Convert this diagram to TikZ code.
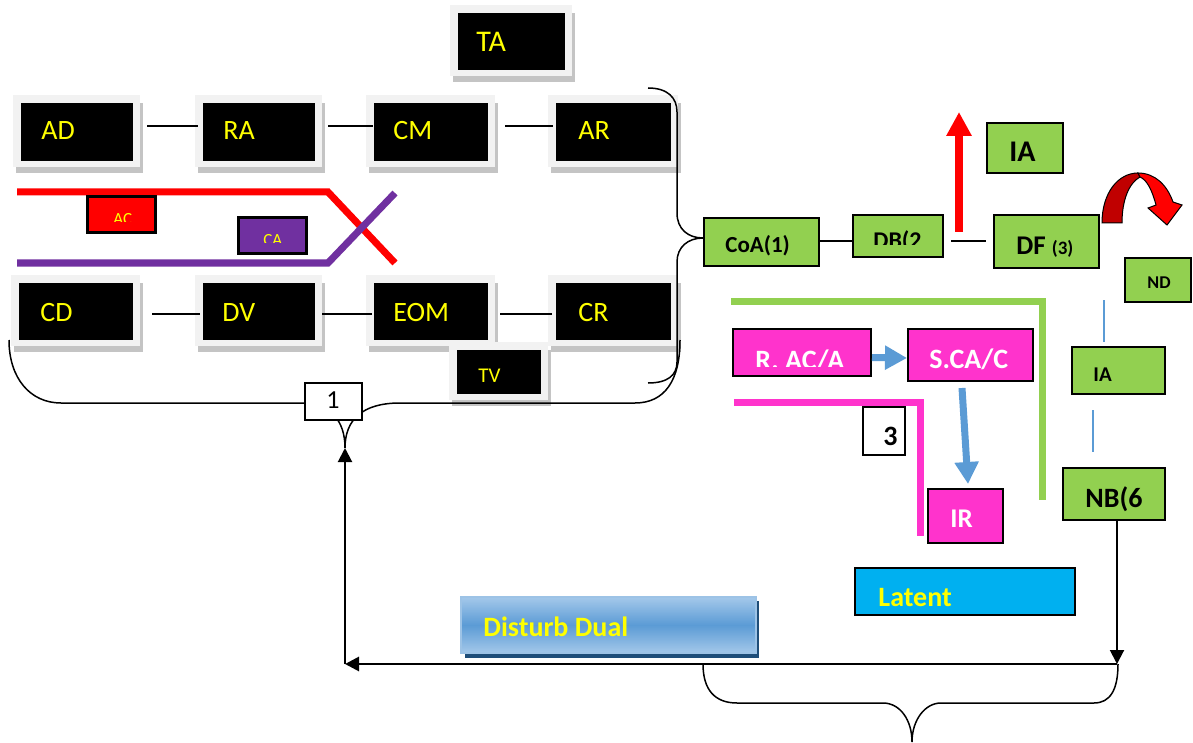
\documentclass[tikz,border=0pt]{standalone}
\usepackage{fontspec}
\setmainfont{Carlito}
\usetikzlibrary{fit,calc,arrows.meta}
\definecolor{ygreen}{HTML}{92D050}
\definecolor{hpink}{HTML}{FF33CC}
\definecolor{scyan}{HTML}{00B0F0}
\definecolor{sblue}{HTML}{5B9BD5}
\definecolor{lblue}{HTML}{A4C8EA}
\definecolor{dblue}{HTML}{1F4E79}
\definecolor{dpurple}{HTML}{7030A0}
\definecolor{dred}{HTML}{C00000}
\definecolor{tyellow}{HTML}{FFFF00}
\definecolor{frgray}{HTML}{F2F2F2}
\definecolor{shgray}{HTML}{C4C4C4}
\newcommand\myfs[1]{\fontsize{#1}{#1}\selectfont}
\newcommand\blkbox[5]{%
  \fill[shgray] ({#2-5},{#3}) rectangle ({#4+11},{#5+13});
  \fill[frgray] ({#2-8},{#3-8}) rectangle ({#4+8},{#5+7});
  \node[blackbox, fit={(#2,#3)(#4,#5)}] (#1) {};}
\begin{document}
\begin{tikzpicture}[x=0.5pt,y=-0.5pt,
  blackbox/.style={fill=black, draw=black, line width=0.3pt, inner sep=0pt},
  ytxt/.style={text=tyellow, inner sep=0pt, anchor=base west, font=\myfs{14}},
  btxt/.style={text=black, inner sep=0pt, anchor=base west, font=\bfseries\myfs{#1}},
  wtxt/.style={text=white, inner sep=0pt, anchor=base west, font=\bfseries\myfs{#1}},
  grbox/.style={fill=ygreen, draw=black, line width=1pt, inner sep=0pt},
  pkbox/.style={fill=hpink, draw=black, line width=1pt, inner sep=0pt},
  smallbox/.style={draw=black, line width=1.5pt, inner sep=0pt},
  numbox/.style={fill=white, draw=black, line width=0.6pt, inner sep=0pt},
  conn/.style={draw=black, line width=0.75pt},
  brace/.style={draw=black, line width=0.75pt},
  thickline/.style={line width=3.5pt},
  barrow/.style={draw=sblue, line width=3.5pt, -{Triangle[width=11.5pt,length=11pt]}},
  karrow/.style={draw=black, -{Triangle[width=7pt,length=7pt]}}
]
\useasboundingbox (0,0) rectangle (1193,743);

% ---------- black boxes ----------
\blkbox{TA}{458}{13}{564}{69}
\blkbox{AD}{21}{103}{132}{160}
\blkbox{RA}{203}{103}{314}{160}
\blkbox{CM}{374}{103}{487}{160}
\blkbox{AR}{556}{103}{670}{160}
\blkbox{CD}{19}{283}{132}{339}
\blkbox{DV}{203}{283}{314}{339}
\blkbox{EOM}{374}{283}{487}{339}
\blkbox{CR}{556}{283}{670}{339}
\blkbox{TV}{457}{350}{540}{393}

\node[ytxt, font=\myfs{15}] (TAt) at (476,52) {TA};
\node[ytxt] (ADt) at (41,140) {AD};
\node[ytxt] (RAt) at (223,140) {RA};
\node[ytxt] (CMt) at (393,140) {CM};
\node[ytxt] (ARt) at (578,140) {AR};
\node[ytxt] (CDt) at (40,321) {CD};
\node[ytxt] (DVt) at (222,321) {DV};
\node[ytxt] (EOMt) at (393,321) {EOM};
\node[ytxt] (CRt) at (578,321) {CR};
\node[ytxt, font=\myfs{10.5}] (TVt) at (478,382) {TV};

% connectors of the rows
\draw[conn] ($(AD.east)+(15,-5.5)$) -- ($(RA.west)+(-5,-5.5)$);
\draw[conn] ($(RA.east)+(14,-5.5)$) -- ($(CM.west)+(-1,-5.5)$);
\draw[conn] ($(CM.east)+(18,-5.5)$) -- ($(AR.west)+(-3,-5.5)$);
\draw[conn] ($(CD.east)+(20,3)$) -- ($(DV.west)+(-3,3)$);
\draw[conn] ($(DV.east)+(8,3)$) -- ($(EOM.west)+(-2,3)$);
\draw[conn] ($(EOM.east)+(13,3)$) -- ($(CR.west)+(-4,3)$);

% ---------- crossing lines ----------
\draw[red, thickline] (17,192) -- (328,192) -- (395,263);
\draw[dpurple, thickline] (17,263) -- (328,263) -- (395,193);

\node[smallbox, fill=red, fit={(87,197)(155,233)}] (AC) {};
\begin{scope}
  \clip (87,197) rectangle (155,222);
  \node[ytxt, font=\myfs{8.5}] (ACt) at (113,225) {AC};
\end{scope}
\node[smallbox, fill=dpurple, fit={(238,218)(306,254)}] (CA) {};
\begin{scope}
  \clip (238,218) rectangle (306,243);
  \node[ytxt, font=\myfs{8.5}] (CAt) at (263,246) {CA};
\end{scope}

% ---------- green chain ----------
\node[grbox, fit={(704,218)(819,266)}] (CoA) {};
\node[btxt=11.5] (CoAt) at (725,253) {CoA(1)};
\node[grbox, fit={(853,215)(943,257)}] (DB) {};
\begin{scope}
  \clip (853,215) rectangle (943,245);
  \node[btxt=12] (DBt) at (873,248.5) {DB(2};
\end{scope}
\node[grbox, fit={(994,215)(1099,268)}] (DF) {};
\node[btxt=13.5] (DFt) at (1016,255) {DF {\myfs{9.5}(3)}};
\node[grbox, fit={(987,123)(1063,173)}] (IA1) {};
\node[btxt=15] (IA1t) at (1009,162) {IA};
\node[grbox, fit={(1125,258)(1191,302)}] (ND) {};
\node[btxt=9] (NDt) at (1147,288) {ND};
\node[grbox, fit={(1072,347)(1165,394)}] (IA2) {};
\node[btxt=10.5] (IA2t) at (1093,381) {IA};
\node[grbox, fit={(1063,468)(1165,520)}] (NB6) {};
\node[btxt=14] (NB6t) at (1085,507) {NB(6};

\coordinate (cy) at (0,241);
\draw[conn] (CoA.east |- cy) -- (DB.west |- cy);
\draw[conn] ($(DB.east |- cy)+(7,0)$) -- ($(DF.west |- cy)+(-7,0)$);

% red up arrow
\coordinate (rb) at (959,232);
\coordinate (rt) at (959,112);
\draw[red, line width=4pt, -{Triangle[width=12pt,length=12pt]}] (rb) -- (rt);

% curved red arrow
\filldraw[fill=dred, draw=black, line width=0.5pt]
  (1102,223) .. controls (1102,193) and (1118,173) .. (1138,173)
  -- (1140,177) .. controls (1129,183) and (1122,200) .. (1122,223) -- cycle;
\filldraw[fill=red, draw=black, line width=0.5pt]
  (1138,173) .. controls (1155,173) and (1167,185) .. (1173,202)
  -- (1182,205) -- (1167,225) -- (1148,208) -- (1156,205)
  .. controls (1152,190) and (1147,180) .. (1140,177) -- cycle;

% thin blue lines
\draw[sblue, line width=0.6pt] (1104,300) -- (1104,342);
\draw[sblue, line width=0.6pt] (1093,410) -- (1093,452);

% ---------- pink part ----------
\draw[ygreen, thickline] (731,301) -- (1042,301) -- (1042,500);
\draw[hpink, thickline] (734,402) -- (920,402) -- (920,536);

\node[pkbox, fit={(733,329)(871,376)}] (RAC) {};
\begin{scope}
  \clip (733,329) rectangle (871,366);
  \node[wtxt=14] (RACt) at (755,369) {R. AC/A};
\end{scope}
\node[pkbox, fit={(908,329)(1033,381)}] (SCA) {};
\node[wtxt=14] (SCAt) at (929,368) {S.CA/C};
\node[pkbox, fit={(928,489)(1003,543)}] (IR) {};
\node[wtxt=13.5] (IRt) at (950,527) {IR};

\draw[barrow] ($(RAC.east)+(0,5)$) -- ($(SCA.west)+(0,3)$);
\draw[barrow] ($(SCA.south)+(-8.5,6)$) -- ($(IR.north)+(2.5,-4)$);

\node[numbox, fit={(863,407)(905,455)}] (three) {};
\node[btxt=14] (threet) at (883,445) {3};

% ---------- braces ----------
\coordinate (btip) at (703,238);
\draw[brace] (648,88) .. controls (668,88) and (677,98) .. (677,112)
  -- (677,213) .. controls (677,229) and (688,238) .. (btip)
  .. controls (688,238) and (677,247) .. (677,262)
  -- (677,362) .. controls (677,375) and (668,383) .. (648,383);

\coordinate (upTip) at (345,448);
\draw[brace] (9,340) .. controls (9,378) and (30,403) .. (61,403)
  -- (300,403) .. controls (330,403) and (345,420) .. (upTip)
  .. controls (345,420) and (362,403) .. (400,403)
  -- (635,403) .. controls (665,403) and (680,380) .. (680,340);

\node[numbox, fit={(305,383)(362,420)}] (one) {};
\node[inner sep=0pt, anchor=base, font=\myfs{13}] (onet) at (333,408) {1};

% ---------- bottom ----------
\fill[dblue] (465,601) rectangle (759,658);
\node[fit={(461,597)(756,653)}, inner sep=0pt, draw=sblue!60!white, line width=1pt,
      top color=lblue, bottom color=lblue, middle color=sblue] (DD) {};
\node[ytxt, font=\bfseries\myfs{14}] (DDt) at (483,636) {Disturb Dual};

\node[fit={(855,568)(1075,615)}, inner sep=0pt, fill=scyan, draw=black, line width=1pt] (LT) {};
\node[ytxt, font=\bfseries\myfs{14}] (LTt) at (878,606) {Latent};

\coordinate (bl) at (345,664);
\coordinate (br) at (1117,664);
\draw[karrow, line width=1pt] (br |- NB6.south) -- (br);
\draw[karrow, line width=1.4pt] (br) -- (bl);
\draw[karrow, line width=1pt] (bl) -- (upTip);

\coordinate (btip2) at (912,742);
\draw[brace] (703,664) .. controls (703,690) and (715,703) .. (737,703)
  -- (883,703) .. controls (900,703) and (912,720) .. (btip2)
  .. controls (912,720) and (925,703) .. (941,703)
  -- (1094,703) .. controls (1110,703) and (1118,690) .. (1118,664);
\end{tikzpicture}
\end{document}
